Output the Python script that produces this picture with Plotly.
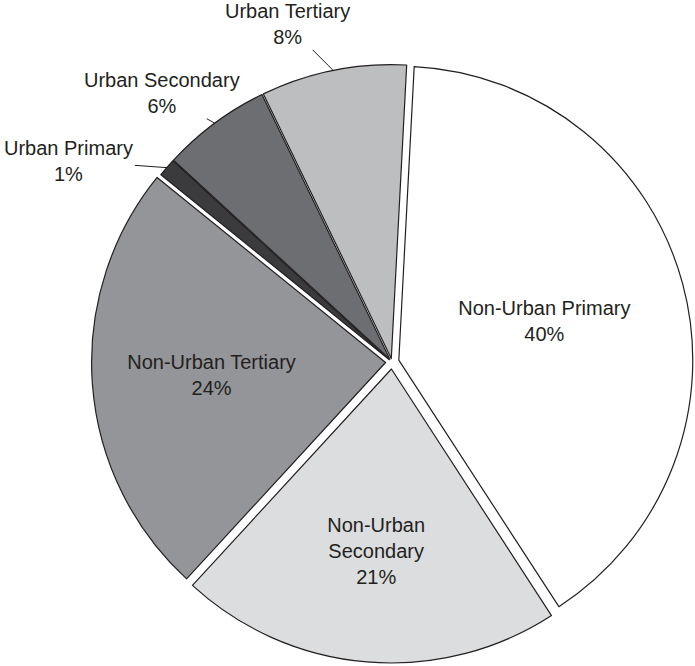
import math
import plotly.graph_objects as go

#### data
labels = ["Non-Urban Primary", "Non-Urban Secondary", "Non-Urban Tertiary",
          "Urban Primary", "Urban Secondary", "Urban Tertiary"]
label_text = ["Non-Urban Primary", "Non-Urban<br>Secondary", "Non-Urban Tertiary",
              "Urban Primary", "Urban Secondary", "Urban Tertiary"]
values = [40, 21, 24, 1, 6, 8]
colors = ["#ffffff", "#dcdddf", "#939598", "#3b3b3d", "#6d6e71", "#bcbec0"]
pulls = [0.024, 0.024, 0.022, 0.012, 0.012, 0.012]
inside = [True, True, True, False, False, False]

#### layout geometry (px)
W, H = 695, 666
m_l, m_r, m_t, m_b = 91, 2, 61, 3
rotation = 3
font_fam = "Liberation Sans, Arial, sans-serif"
ink = "#231f20"

fig = go.Figure()

fig.add_trace(
    go.Pie(
        labels=labels,
        values=values,
        text=label_text,
        sort=False,
        direction="clockwise",
        rotation=rotation,
        pull=pulls,
        marker=dict(colors=colors, line=dict(color=ink, width=1.2)),
        textposition=["inside" if f else "none" for f in inside],
        texttemplate="%{text}<br>%{percent:.0%}",
        insidetextorientation="horizontal",
        insidetextfont=dict(family=font_fam, size=20, color=ink),
        hoverinfo="label+percent",
        showlegend=False,
    )
)

#### outside labels for the small slices with leader lines
plot_w = W - m_l - m_r
plot_h = H - m_t - m_b
cx, cy = plot_w / 2, plot_h / 2
r = min(plot_w, plot_h) / 2 / (1 + max(pulls))
offsets = {"Urban Primary": (-98, -7), "Urban Secondary": (-53, -30), "Urban Tertiary": (-46, -46)}

total = sum(values)
cum = 0
for lab, txt, v, p, f in zip(labels, label_text, values, pulls, inside):
    mid = math.radians(rotation + 360 * (cum + v / 2) / total)
    cum += v
    if f:
        continue
    rr = r * (1 + p)
    px = cx + rr * math.sin(mid)
    py = cy - rr * math.cos(mid)
    ax, ay = offsets[lab]
    fig.add_annotation(
        x=px / plot_w, y=1 - py / plot_h,
        xref="paper", yref="paper",
        text=f"{txt}<br>{round(100 * v / total)}%",
        showarrow=True, arrowhead=0, arrowwidth=1, arrowcolor=ink,
        standoff=0, ax=ax, ay=ay,
        font=dict(family=font_fam, size=20, color=ink),
    )

fig.update_layout(
    width=W, height=H,
    margin=dict(l=m_l, r=m_r, t=m_t, b=m_b),
    paper_bgcolor="white",
    plot_bgcolor="white",
    font=dict(family=font_fam, size=20, color=ink),
)

#### drop the default page margin so the figure sits at the window corner
fig.write_html(
    "out.html",
    config={"displayModeBar": False},
    post_script="document.body.style.margin='0';",
)
